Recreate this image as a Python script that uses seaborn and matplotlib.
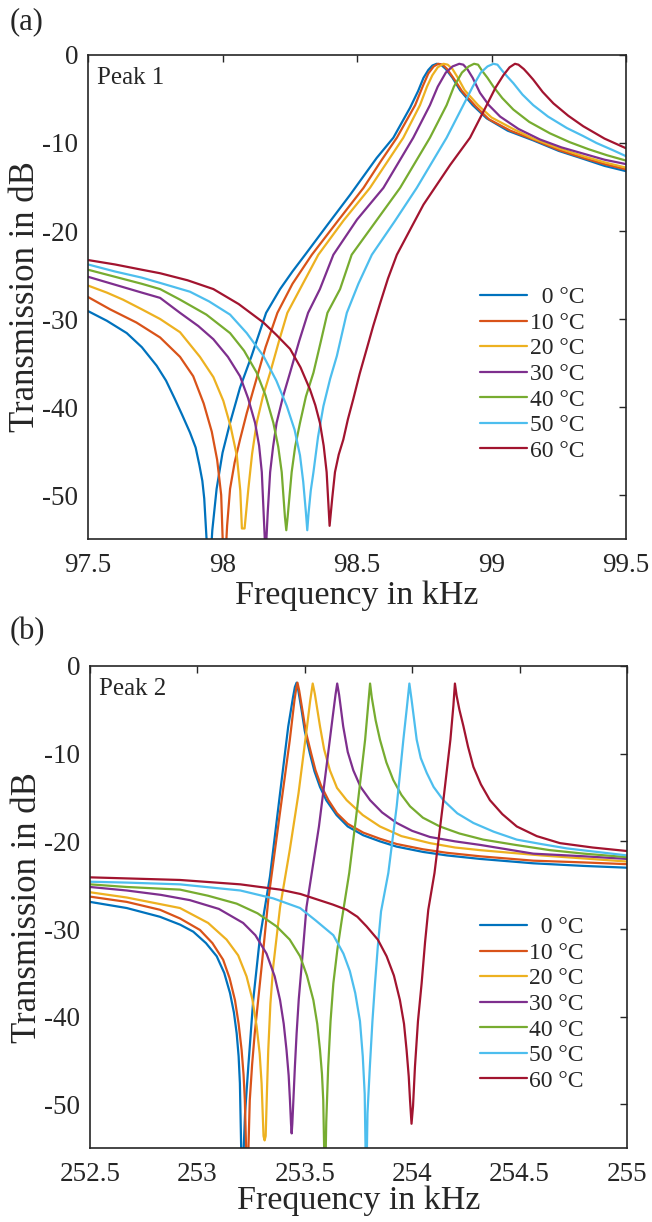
import numpy as np
import pandas as pd
import seaborn as sns
import matplotlib
matplotlib.use('Agg')
import matplotlib.pyplot as plt

# legend labels and line colours (MATLAB default order)
temps = ['  0 °C', '10 °C', '20 °C', '30 °C', '40 °C', '50 °C', '60 °C']
colors = ['#0072BD', '#D95319', '#EDB120', '#7E2F8E', '#77AC30', '#4DBEEE', '#A2142F']

# ---- Peak 1 (frequency in kHz, transmission in dB)
f_a_0 = [97.5, 97.57, 97.644, 97.70, 97.755, 97.79, 97.823, 97.85, 97.879, 97.90, 97.914, 97.925, 97.932, 97.950,
         97.962, 97.978, 98.0, 98.028, 98.065, 98.108, 98.162, 98.214, 98.26, 98.307, 98.39, 98.474, 98.573, 98.635,
         98.697, 98.727, 98.747, 98.765, 98.78, 98.796, 98.812, 98.83, 98.855, 98.883, 98.93, 98.982, 99.06, 99.155,
         99.25, 99.341, 99.42, 99.5]
db_a_0 = [-29.1, -30.2, -31.6, -33.2, -35.3, -37.0, -39.1, -40.9, -42.9, -44.6, -46.6, -48.4, -50.4, -60,
          -54.0, -49.3, -45.2, -41.8, -37.8, -34.2, -29.3, -26.6, -24.6, -22.7, -19.3, -15.9, -11.7, -9.4,
          -6.0, -4.1, -2.6, -1.7, -1.2, -1.0, -1.1, -1.6, -2.6, -4.0, -5.7, -7.2, -8.6, -9.7,
          -10.9, -11.8, -12.6, -13.2]

f_a_10 = [97.5, 97.582, 97.68, 97.768, 97.842, 97.891, 97.93, 97.96, 97.98, 97.995, 98.006, 98.017, 98.028, 98.045,
          98.065, 98.09, 98.115, 98.16, 98.204, 98.26, 98.332, 98.43, 98.524, 98.59, 98.648, 98.716, 98.745, 98.765,
          98.785, 98.802, 98.818, 98.835, 98.86, 98.89, 98.94, 98.99, 99.07, 99.155, 99.25, 99.341, 99.42, 99.5]
db_a_10 = [-27.5, -28.9, -30.4, -32.1, -34.3, -36.5, -39.6, -42.8, -46.0, -50.0, -60, -53.5, -49.3, -46.3,
           -43.7, -40.7, -38.0, -33.2, -29.3, -26.0, -22.7, -18.8, -15.1, -12.0, -9.4, -5.7, -3.5, -2.1,
           -1.3, -1.0, -1.1, -1.6, -2.7, -4.1, -5.8, -7.3, -8.6, -9.6, -10.8, -11.7, -12.4, -13.0]

f_a_20 = [97.5, 97.57, 97.63, 97.70, 97.768, 97.842, 97.916, 97.966, 98.003, 98.03, 98.053, 98.066, 98.072, 98.082,
          98.096, 98.11, 98.127, 98.15, 98.177, 98.21, 98.241, 98.288, 98.356, 98.45, 98.548, 98.672, 98.734, 98.76,
          98.78, 98.80, 98.821, 98.837, 98.855, 98.875, 98.90, 98.95, 99.0, 99.08, 99.155, 99.25, 99.341, 99.42, 99.5]
db_a_20 = [-26.2, -27.0, -27.8, -28.9, -30.0, -31.5, -34.3, -36.6, -39.3, -42.2, -45.5, -49.5, -53.8, -53.8,
           -49.3, -45.3, -41.8, -38.8, -36.1, -32.5, -29.3, -26.6, -22.7, -18.8, -15.1, -9.4, -5.7, -3.6,
           -2.3, -1.4, -1.0, -1.1, -1.6, -2.6, -4.0, -5.7, -7.1, -8.4, -9.5, -10.6, -11.5, -12.2, -12.8]

f_a_30 = [97.5, 97.6, 97.7, 97.768, 97.842, 97.91, 97.966, 98.02, 98.065, 98.095, 98.121, 98.136, 98.146, 98.160,
          98.168, 98.177, 98.188, 98.201, 98.225, 98.251, 98.285, 98.318, 98.362, 98.412, 98.50, 98.598, 98.709,
          98.771, 98.80, 98.83, 98.855, 98.880, 98.895, 98.91, 98.93, 98.957, 98.99, 99.032, 99.10, 99.180, 99.26,
          99.34, 99.42, 99.5]
db_a_30 = [-25.2, -26.1, -27.0, -27.6, -29.3, -30.8, -32.3, -34.3, -36.5, -39.0, -41.8, -44.4, -47.4, -57.0,
           -52.0, -47.4, -44.5, -41.8, -38.8, -36.1, -32.5, -29.3, -26.6, -22.7, -18.7, -15.1, -9.4,
           -5.7, -3.6, -2.0, -1.3, -1.0, -1.1, -1.6, -2.6, -4.3, -5.7, -7.0, -8.4, -9.6, -10.5,
           -11.2, -11.9, -12.4]

f_a_40 = [97.5, 97.6, 97.7, 97.768, 97.842, 97.94, 98.028, 98.08, 98.127, 98.16, 98.189, 98.207, 98.220, 98.232,
          98.237, 98.242, 98.257, 98.27, 98.288, 98.31, 98.338, 98.365, 98.39, 98.437, 98.480, 98.57, 98.660, 98.771,
          98.833, 98.86, 98.89, 98.915, 98.935, 98.95, 98.965, 98.985, 99.007, 99.04, 99.081, 99.14, 99.217, 99.29,
          99.36, 99.43, 99.5]
db_a_40 = [-24.4, -25.2, -26.0, -26.6, -27.8, -29.5, -31.6, -33.6, -36.1, -38.7, -41.8, -44.5, -47.4, -52.5,
           -54.0, -52.5, -47.4, -44.5, -41.8, -38.8, -36.1, -32.6, -29.3, -26.6, -22.7, -18.9, -15.1, -9.4,
           -5.7, -3.6, -2.0, -1.3, -1.0, -1.1, -1.8, -2.6, -3.6, -4.9, -6.2, -7.6, -8.9, -9.9,
           -10.7, -11.4, -12.0]

f_a_50 = [97.5, 97.6, 97.7, 97.768, 97.879, 97.95, 98.028, 98.09, 98.152, 98.2, 98.239, 98.268, 98.288, 98.300,
          98.310, 98.315, 98.320, 98.328, 98.338, 98.355, 98.375, 98.40, 98.425, 98.462, 98.505, 98.555, 98.64,
          98.722, 98.833, 98.895, 98.93, 98.96, 98.985, 99.007, 99.022, 99.04, 99.06, 99.081, 99.115, 99.155, 99.21,
          99.28, 99.34, 99.39, 99.45, 99.5]
db_a_50 = [-23.8, -24.6, -25.3, -25.9, -26.9, -28.0, -29.5, -31.6, -34.2, -37.0, -39.9, -42.6, -45.5, -48.5,
           -52.0, -54.0, -52.0, -49.5, -47.4, -43.4, -39.9, -36.8, -34.2, -29.3, -26.0, -22.7, -18.9,
           -15.1, -9.4, -5.7, -3.6, -2.0, -1.3, -1.0, -1.1, -1.8, -2.5, -3.2, -4.5, -5.7, -7.0,
           -8.3, -9.2, -10.0, -10.8, -11.5]

f_a_60 = [97.5, 97.6, 97.7, 97.768, 97.87, 97.966, 98.06, 98.152, 98.2, 98.251, 98.29, 98.325, 98.345, 98.362,
          98.376, 98.387, 98.398, 98.408, 98.418, 98.432, 98.449, 98.466, 98.486, 98.51, 98.536, 98.56, 98.586,
          98.615, 98.648, 98.70, 98.747, 98.846, 98.920, 98.982, 99.015, 99.044, 99.067, 99.087, 99.10, 99.12,
          99.135, 99.155, 99.19, 99.23, 99.285, 99.341, 99.42, 99.5]
db_a_60 = [-23.3, -23.8, -24.4, -24.8, -25.6, -26.6, -28.3, -30.4, -31.8, -33.4, -35.5, -38.0, -39.8, -41.8,
           -44.4, -47.4, -53.5, -50.3, -47.4, -45.4, -43.7, -41.4, -39.1, -36.2, -33.4, -30.8, -28.2,
           -25.4, -22.7, -19.7, -17.0, -12.5, -9.4, -5.7, -3.7, -2.3, -1.4, -1.0, -1.1, -1.6,
           -2.1, -2.8, -4.2, -5.5, -6.9, -8.1, -9.5, -10.6]

# ---- Peak 2
f_b_0 = [252.5, 252.671, 252.826, 252.92, 252.981, 253.04, 253.090, 253.125, 253.152, 253.170, 253.183, 253.192,
         253.198, 253.208, 253.222, 253.237, 253.260, 253.291, 253.338, 253.385, 253.423, 253.445, 253.454, 253.462,
         253.47, 253.485, 253.50, 253.524, 253.545, 253.571, 253.60, 253.648, 253.70, 253.772, 253.85, 253.928,
         254.05, 254.161, 254.316, 254.564, 254.8, 255.0]
db_b_0 = [-26.9, -27.6, -28.6, -29.5, -30.3, -31.6, -33.1, -35.0, -37.3, -39.5, -41.9, -44.5,
          -47.6, -60, -51.0, -45.7, -38.1, -31.0, -24.0, -14.5, -6.9, -3.6, -2.4, -1.9,
          -2.8, -5.0, -7.4, -10.0, -12.0, -13.8, -15.3, -17.0, -18.3, -19.3, -20.0, -20.6,
          -21.2, -21.6, -22.0, -22.5, -22.8, -23.0]

f_b_10 = [252.5, 252.671, 252.826, 252.92, 253.012, 253.07, 253.120, 253.15, 253.175, 253.192, 253.206, 253.215,
          253.221, 253.232, 253.244, 253.255, 253.267, 253.299, 253.330, 253.383, 253.430, 253.452, 253.460, 253.466,
          253.474, 253.49, 253.505, 253.53, 253.55, 253.575, 253.61, 253.65, 253.70, 253.772, 253.85, 253.928,
          254.05, 254.161, 254.316, 254.564, 254.8, 255.0]
db_b_10 = [-26.3, -26.9, -27.8, -28.8, -30.1, -31.6, -33.5, -35.6, -38.1, -40.8, -43.8, -46.6,
           -49.5, -60, -49.5, -45.4, -41.9, -34.3, -26.7, -17.0, -8.5, -3.9, -2.6, -1.9,
           -2.8, -5.2, -7.5, -10.0, -11.9, -13.6, -15.3, -16.8, -18.0, -19.0, -19.7, -20.3,
           -20.9, -21.3, -21.7, -22.2, -22.4, -22.6]

f_b_20 = [252.5, 252.671, 252.919, 253.05, 253.136, 253.19, 253.229, 253.256, 253.276, 253.290, 253.299, 253.308,
          253.313, 253.318, 253.324, 253.330, 253.34, 253.353, 253.385, 253.430, 253.471, 253.51, 253.525, 253.537,
          253.547, 253.571, 253.59, 253.617, 253.65, 253.695, 253.77, 253.850, 253.95, 254.083, 254.2, 254.316,
          254.6, 255.0]
db_b_20 = [-25.8, -26.4, -27.6, -29.3, -31.2, -33.0, -35.4, -38.0, -41.1, -44.2, -47.6, -53.6,
           -54.1, -53.6, -48.5, -43.8, -38.5, -34.3, -27.5, -21.0, -14.5, -7.0, -4.0, -2.0,
           -3.2, -6.9, -9.5, -11.9, -13.9, -15.3, -17.0, -18.3, -19.4, -20.2, -20.7, -21.0,
           -21.6, -22.3]

f_b_30 = [252.5, 252.671, 252.83, 252.965, 253.1, 253.213, 253.27, 253.322, 253.36, 253.385, 253.402, 253.415,
          253.425, 253.431, 253.436, 253.439, 253.442, 253.447, 253.454, 253.462, 253.472, 253.485, 253.508, 253.566,
          253.605, 253.63, 253.643, 253.651, 253.66, 253.679, 253.70, 253.726, 253.76, 253.804, 253.86, 253.928,
          254.0, 254.083, 254.2, 254.316, 254.564, 254.8, 255.0]
db_b_30 = [-25.2, -25.6, -26.1, -26.7, -27.7, -29.3, -30.7, -32.8, -35.4, -38.1, -40.8, -43.8,
           -46.7, -49.5, -52.2, -53.3, -52.2, -49.5, -45.7, -41.9, -38.0, -34.3, -27.5, -18.3,
           -10.7, -5.8, -3.3, -2.0, -3.3, -6.9, -9.8, -11.9, -13.8, -15.3, -16.7, -17.9,
           -18.8, -19.5, -20.0, -20.4, -21.4, -21.7, -22.0]

f_b_40 = [252.5, 252.671, 252.919, 253.05, 253.183, 253.28, 253.369, 253.43, 253.478, 253.51, 253.540, 253.558,
          253.571, 253.58, 253.586, 253.594, 253.600, 253.609, 253.62, 253.633, 253.652, 253.672, 253.707, 253.745,
          253.781, 253.795, 253.804, 253.812, 253.83, 253.850, 253.88, 253.912, 253.95, 253.990, 254.05, 254.129,
          254.22, 254.331, 254.48, 254.641, 254.8, 255.0]
db_b_40 = [-24.9, -25.2, -25.5, -26.2, -27.1, -28.2, -29.7, -31.2, -33.1, -35.3, -38.1, -40.8,
           -43.8, -46.5, -49.5, -60, -52.0, -45.7, -40.5, -36.2, -32.3, -29.0, -23.6, -16.0,
           -8.4, -4.5, -2.0, -3.6, -6.2, -8.4, -11.0, -13.0, -14.7, -16.0, -17.3, -18.3,
           -19.1, -19.8, -20.4, -21.0, -21.4, -21.8]

f_b_50 = [252.5, 252.671, 252.919, 253.2, 253.353, 253.478, 253.55, 253.633, 253.68, 253.71, 253.735, 253.757,
          253.770, 253.779, 253.786, 253.792, 253.803, 253.815, 253.827, 253.84, 253.855, 253.889, 253.928, 253.959,
          253.975, 253.987, 253.997, 254.021, 254.04, 254.068, 254.10, 254.145, 254.21, 254.285, 254.38, 254.487,
          254.6, 254.72, 254.86, 255.0]
db_b_50 = [-24.6, -24.7, -24.9, -25.6, -26.5, -27.6, -29.0, -30.7, -32.8, -34.8, -37.3, -40.5,
           -44.5, -48.8, -60, -51.0, -45.7, -40.5, -36.2, -32.0, -28.0, -23.6, -16.0, -8.4,
           -4.8, -2.0, -3.8, -8.4, -10.5, -12.2, -13.8, -15.3, -16.8, -17.9, -18.9, -19.8,
           -20.3, -20.8, -21.2, -21.6]

f_b_60 = [252.5, 252.919, 253.2, 253.385, 253.48, 253.555, 253.63, 253.695, 253.745, 253.788, 253.84, 253.881,
          253.915, 253.943, 253.962, 253.974, 253.984, 253.990, 253.997, 254.004, 254.013, 254.027, 254.044, 254.06,
          254.075, 254.104, 254.142, 254.178, 254.192, 254.199, 254.207, 254.22, 254.238, 254.26, 254.285, 254.32,
          254.362, 254.42, 254.487, 254.58, 254.688, 254.84, 255.0]
db_b_60 = [-24.1, -24.4, -24.9, -25.5, -26.0, -26.6, -27.2, -27.8, -28.6, -29.7, -31.2, -33.1,
           -35.3, -38.1, -40.8, -43.8, -46.8, -49.5, -52.2, -50.2, -45.7, -40.5, -36.2, -31.5,
           -27.8, -23.6, -16.0, -8.4, -4.5, -2.0, -3.4, -5.0, -6.8, -9.2, -11.5, -13.5,
           -15.3, -16.9, -18.3, -19.4, -20.2, -20.7, -21.1]

# axis ticks
xticks_a = [97.5, 98, 98.5, 99, 99.5]
xticklabels_a = ['97.5', '98', '98.5', '99', '99.5']
xticks_b = [252.5, 253, 253.5, 254, 254.5, 255]
xticklabels_b = ['252.5', '253', '253.5', '254', '254.5', '255']
yticks = [0, -10, -20, -30, -40, -50]
yticklabels = ['0', '-10', '-20', '-30', '-40', '-50']


def to_long(freqs, dbs):
    frames = []
    for lab, f, d in zip(temps, freqs, dbs):
        frames.append(pd.DataFrame({'freq': f, 'db': d, 'temp': lab}))
    return pd.concat(frames, ignore_index=True)


df_a = to_long([f_a_0, f_a_10, f_a_20, f_a_30, f_a_40, f_a_50, f_a_60],
               [db_a_0, db_a_10, db_a_20, db_a_30, db_a_40, db_a_50, db_a_60])
df_b = to_long([f_b_0, f_b_10, f_b_20, f_b_30, f_b_40, f_b_50, f_b_60],
               [db_b_0, db_b_10, db_b_20, db_b_30, db_b_40, db_b_50, db_b_60])

sns.set_style('white')
plt.rcParams['font.family'] = ['Liberation Serif', 'DejaVu Serif']
plt.rcParams['axes.edgecolor'] = '#262626'
plt.rcParams['xtick.color'] = '#262626'
plt.rcParams['ytick.color'] = '#262626'

fig = plt.figure(figsize=(6.52, 12.22), dpi=100)
ax_a = fig.add_axes([0.1350, 0.5589, 0.8252, 0.3961])
ax_b = fig.add_axes([0.1380, 0.0603, 0.8236, 0.3947])

panels = [
    (ax_a, df_a, xticks_a, xticklabels_a, 'Peak 1', (0.7286, 0.3405), -0.085),
    (ax_b, df_b, xticks_b, xticklabels_b, 'Peak 2', (0.726, 0.2988), -0.077),
]

for ax, df, xt, xtl, title, leg_pos, xlab_y in panels:
    sns.lineplot(data=df, x='freq', y='db', hue='temp', hue_order=temps, palette=colors,
                 estimator=None, sort=False, linewidth=1.6, ax=ax)
    ax.set_xlim(xt[0], xt[-1])
    ax.set_ylim(-55, 0)
    ax.set_xticks(xt)
    ax.set_xticklabels(xtl)
    ax.set_yticks(yticks)
    ax.set_yticklabels(yticklabels)
    ax.tick_params(direction='in', length=5, width=1.0, top=True, right=True, labelsize=19.5)
    ax.tick_params(axis='x', pad=10)
    ax.tick_params(axis='y', pad=7)
    for sp in ax.spines.values():
        sp.set_linewidth(1.2)
        sp.set_color('#262626')
    ax.set_xlabel('Frequency in kHz', fontsize=24.5)
    ax.set_ylabel('Transmission in dB', fontsize=25)
    ax.xaxis.set_label_coords(0.5, xlab_y)
    ax.yaxis.set_label_coords(-0.085, 0.5)
    ax.text(0.017, 0.952, title, transform=ax.transAxes, fontsize=18, va='center', ha='left')
    handles, labels = ax.get_legend_handles_labels()
    ax.legend(handles, labels, loc='center left', bbox_to_anchor=leg_pos, frameon=False,
              fontsize=17, handlelength=2.0, handletextpad=0.1, labelspacing=0.17,
              borderpad=0, borderaxespad=0)

fig.text(0.015, 1 - 22 / 1222, '(a)', fontsize=22, va='center', ha='left')
fig.text(0.015, 1 - 632 / 1222, '(b)', fontsize=22, va='center', ha='left')

fig.savefig('out.png', dpi=100)
